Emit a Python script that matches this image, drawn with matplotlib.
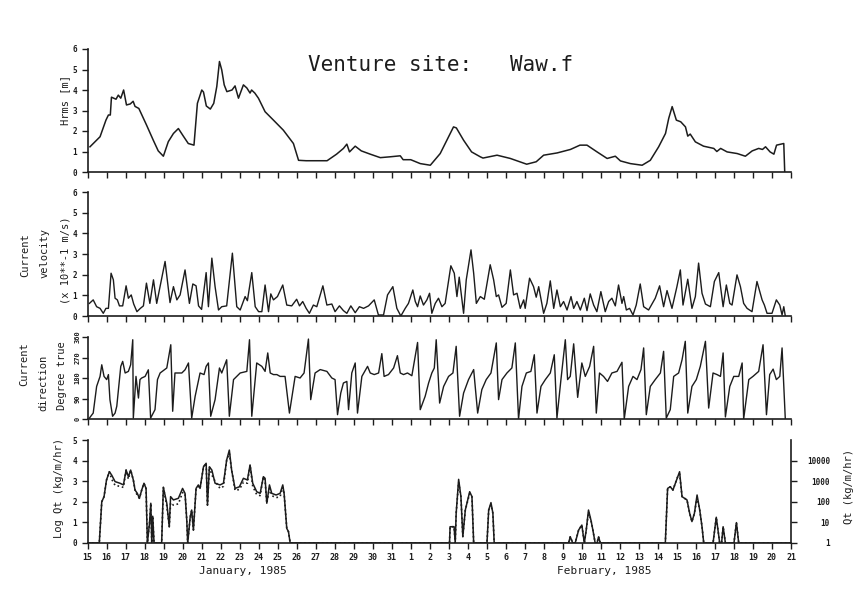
import numpy as np
import matplotlib
matplotlib.use("Agg")
import matplotlib.pyplot as plt

plt.rcParams['font.family'] = ['DejaVu Sans Mono']

# ---- data (day of Jan 1985; Feb 1 = day 32) ----
hrms_day = [15.13, 15.66, 15.97, 16.1, 16.2, 16.26, 16.5, 16.62, 16.75, 16.9,
            17.05, 17.25, 17.4, 17.5, 17.7, 17.94, 18.1, 18.46, 18.72, 18.99,
            19.25, 19.52, 19.78, 20.04, 20.3, 20.6, 20.78, 21.01, 21.1, 21.25,
            21.46, 21.64, 21.8, 21.94, 22.06, 22.19, 22.33, 22.6, 22.76, 22.94,
            23.2, 23.38, 23.55, 23.63, 23.8, 23.99, 24.34, 24.78, 25.3, 25.83,
            26.1, 26.5, 27.6, 28.1, 28.46, 28.64, 28.78, 29.08, 29.4, 29.87,
            30.4, 30.9, 31.45, 31.6, 32.0, 32.5, 33.03, 33.55, 33.9, 34.25,
            34.4, 34.78, 35.2, 35.66, 35.8, 36.54, 37.24, 38.1, 38.6, 38.99,
            39.7, 40.4, 40.9, 41.27, 41.8, 42.33, 42.76, 43.03, 43.55, 44.17,
            44.6, 45.04, 45.4, 45.57, 45.75, 45.97, 46.2, 46.45, 46.57, 46.7,
            46.97, 47.4, 47.94, 48.1, 48.3, 48.64, 49.17, 49.6, 49.96, 50.3,
            50.5, 50.66, 50.9, 51.1, 51.24, 51.62, 51.67]
hrms_val = [1.23, 1.72, 2.53, 2.78, 2.78, 3.65, 3.55, 3.75, 3.6, 4.0,
            3.27, 3.32, 3.45, 3.2, 3.1, 2.62, 2.3, 1.55, 1.03, 0.77,
            1.48, 1.88, 2.12, 1.75, 1.39, 1.31, 3.35, 4.0, 3.9, 3.22,
            3.07, 3.35, 4.17, 5.39, 4.98, 4.25, 3.92, 4.0, 4.2, 3.6,
            4.25, 4.1, 3.85, 4.0, 3.85, 3.6, 2.94, 2.53, 2.04, 1.39,
            0.57, 0.55, 0.55, 0.87, 1.15, 1.36, 0.98, 1.26, 1.03, 0.87,
            0.7, 0.74, 0.79, 0.6, 0.6, 0.41, 0.33, 0.9, 1.55, 2.2,
            2.15, 1.55, 0.98, 0.74, 0.68, 0.82, 0.66, 0.38, 0.5, 0.82,
            0.93, 1.1, 1.31, 1.31, 0.98, 0.66, 0.77, 0.54, 0.41, 0.33,
            0.57, 1.23, 1.88, 2.62, 3.19, 2.53, 2.45, 2.2, 1.75, 1.85,
            1.47, 1.26, 1.15, 1.0, 1.15, 0.98, 0.9, 0.77, 1.03, 1.15,
            1.1, 1.23, 0.98, 0.87, 1.31, 1.39, 0.0]

vel_day = [15.1, 15.3, 15.48, 15.66, 15.83, 15.97, 16.1, 16.24, 16.36, 16.45,
           16.57, 16.68, 16.85, 17.03, 17.15, 17.3, 17.43, 17.6, 17.78, 17.94,
           18.1, 18.28, 18.47, 18.64, 19.08, 19.34, 19.52, 19.7, 19.87, 20.13,
           20.36, 20.54, 20.71, 20.84, 21.0, 21.24, 21.36, 21.54, 21.71, 21.89,
           22.06, 22.32, 22.62, 22.85, 23.03, 23.29, 23.41, 23.64, 23.82, 24.0,
           24.17, 24.34, 24.52, 24.64, 24.78, 24.99, 25.27, 25.48, 25.74, 26.0,
           26.15, 26.32, 26.5, 26.67, 26.88, 27.06, 27.38, 27.59, 27.85, 28.02,
           28.25, 28.46, 28.64, 28.85, 29.08, 29.3, 29.52, 29.78, 30.08, 30.3,
           30.57, 30.78, 31.06, 31.27, 31.48, 31.71, 31.88, 32.11, 32.24, 32.36,
           32.5, 32.67, 32.85, 32.99, 33.11, 33.29, 33.46, 33.64, 33.81, 34.11,
           34.29, 34.43, 34.55, 34.78, 34.92, 35.17, 35.31, 35.45, 35.66, 35.87,
           36.18, 36.36, 36.5, 36.62, 36.8, 37.02, 37.24, 37.41, 37.59, 37.76,
           37.94, 38.02, 38.25, 38.46, 38.6, 38.73, 38.99, 39.16, 39.34, 39.52,
           39.69, 39.87, 40.04, 40.22, 40.43, 40.57, 40.74, 40.92, 41.13, 41.27,
           41.44, 41.62, 41.79, 42.0, 42.23, 42.41, 42.58, 42.76, 42.93, 43.11,
           43.2, 43.34, 43.51, 43.69, 43.86, 44.07, 44.25, 44.51, 44.86, 45.09,
           45.3, 45.48, 45.74, 46.0, 46.18, 46.32, 46.57, 46.79, 46.97, 47.14,
           47.32, 47.5, 47.76, 47.97, 48.2, 48.43, 48.6, 48.78, 48.9, 49.16,
           49.34, 49.51, 49.69, 49.95, 50.21, 50.48, 50.6, 50.74, 51.0, 51.23,
           51.41, 51.53, 51.62, 51.7]
vel_val = [0.61, 0.78, 0.45, 0.37, 0.13, 0.37, 0.37, 2.07, 1.75, 0.86,
           0.78, 0.49, 0.49, 1.46, 0.86, 1.02, 0.58, 0.21, 0.37, 0.49,
           1.59, 0.61, 1.75, 0.61, 2.64, 0.65, 1.42, 0.78, 1.02, 2.23,
           0.61, 1.55, 1.46, 0.49, 0.32, 2.1, 0.45, 2.8, 1.42, 0.29,
           0.45, 0.49, 3.04, 0.45, 0.29, 0.94, 0.74, 2.1, 0.45, 0.21,
           0.21, 1.5, 0.21, 1.07, 0.78, 0.94, 1.5, 0.53, 0.49, 0.81,
           0.49, 0.7, 0.37, 0.13, 0.53, 0.45, 1.46, 0.53, 0.58, 0.21,
           0.49, 0.26, 0.13, 0.49, 0.16, 0.45, 0.37, 0.49, 0.78, 0.05,
           0.05, 1.02, 1.42, 0.37, 0.0, 0.37, 0.61, 1.26, 0.7, 0.45,
           0.97, 0.53, 0.78, 1.1, 0.13, 0.61, 0.86, 0.45, 0.61, 2.43,
           2.07, 0.94, 1.88, 0.13, 1.75, 3.2, 2.07, 0.61, 0.94, 0.81,
           2.48, 1.75, 0.94, 1.02, 0.42, 0.61, 2.23, 1.02, 1.1, 0.37,
           0.78, 0.37, 1.83, 1.42, 0.91, 1.42, 0.13, 0.61, 1.7, 0.37,
           1.26, 0.45, 0.7, 0.29, 0.94, 0.37, 0.7, 0.29, 0.86, 0.26,
           1.07, 0.53, 0.21, 1.18, 0.21, 0.7, 0.86, 0.49, 1.5, 0.61,
           0.94, 0.29, 0.37, 0.05, 0.53, 1.55, 0.45, 0.29, 0.86, 1.46,
           0.45, 1.23, 0.37, 1.42, 2.23, 0.53, 1.78, 0.37, 0.94, 2.56,
           1.1, 0.58, 0.45, 1.67, 2.1, 0.45, 1.5, 0.61, 0.53, 1.99,
           1.42, 0.61, 0.37, 0.21, 1.67, 0.78, 0.53, 0.13, 0.13, 0.78,
           0.53, 0.05, 0.45, 0.0]

dir_day = [15.1, 15.3, 15.48, 15.66, 15.75, 15.87, 16.01, 16.1, 16.18, 16.32,
           16.45, 16.54, 16.75, 16.85, 16.98, 17.15, 17.27, 17.38, 17.41, 17.55,
           17.68, 17.76, 17.85, 18.03, 18.2, 18.32, 18.55, 18.68, 18.82, 19.17,
           19.38, 19.48, 19.6, 19.96, 20.13, 20.31, 20.48, 20.66, 20.92, 21.13,
           21.24, 21.36, 21.48, 21.71, 21.94, 22.06, 22.32, 22.46, 22.68, 23.03,
           23.38, 23.52, 23.64, 23.9, 24.17, 24.34, 24.48, 24.61, 24.78, 24.96,
           25.13, 25.39, 25.62, 25.92, 26.18, 26.39, 26.62, 26.74, 26.97, 27.24,
           27.59, 27.85, 28.02, 28.15, 28.32, 28.46, 28.64, 28.73, 28.9, 29.08,
           29.2, 29.43, 29.73, 29.87, 30.08, 30.31, 30.48, 30.6, 30.83, 31.1,
           31.3, 31.45, 31.62, 31.83, 32.06, 32.36, 32.5, 32.76, 32.94, 33.11,
           33.24, 33.34, 33.52, 33.73, 33.99, 34.22, 34.39, 34.57, 34.78, 35.04,
           35.31, 35.52, 35.74, 35.97, 36.22, 36.5, 36.62, 36.8, 37.06, 37.32,
           37.5, 37.67, 37.85, 38.08, 38.32, 38.5, 38.64, 38.85, 39.08, 39.34,
           39.55, 39.69, 39.9, 40.13, 40.25, 40.39, 40.57, 40.78, 41.0, 41.18,
           41.41, 41.62, 41.76, 41.93, 42.14, 42.35, 42.58, 42.85, 43.11, 43.23,
           43.46, 43.69, 43.9, 44.11, 44.25, 44.39, 44.6, 44.86, 45.13, 45.3,
           45.44, 45.65, 45.83, 46.09, 46.27, 46.44, 46.57, 46.79, 47.02, 47.23,
           47.5, 47.67, 47.9, 48.11, 48.29, 48.43, 48.55, 48.78, 48.99, 49.25,
           49.43, 49.51, 49.78, 50.0, 50.3, 50.53, 50.71, 50.88, 51.06, 51.23,
           51.41, 51.53, 51.7]
dir_val = [4, 26, 143, 187, 238, 187, 173, 195, 85, 12,
           26, 56, 231, 253, 202, 209, 238, 348, 4, 187,
           92, 173, 180, 187, 216, 4, 41, 173, 202, 224,
           326, 34, 202, 202, 216, 246, 4, 99, 202, 195,
           231, 246, 12, 85, 224, 202, 260, 12, 173, 202,
           209, 348, 12, 246, 231, 209, 290, 202, 195, 195,
           187, 187, 26, 187, 180, 202, 351, 85, 202, 217,
           209, 180, 173, 19, 114, 158, 165, 41, 202, 246,
           26, 187, 231, 202, 195, 202, 287, 187, 195, 224,
           278, 202, 195, 202, 190, 336, 41, 100, 158, 202,
           224, 348, 70, 143, 187, 202, 319, 12, 114, 173,
           217, 26, 129, 173, 202, 334, 85, 173, 202, 224,
           334, 0, 143, 202, 209, 282, 26, 143, 173, 202,
           282, 4, 173, 348, 173, 187, 330, 95, 246, 187,
           231, 319, 26, 202, 187, 165, 202, 209, 249, 0,
           143, 187, 173, 217, 312, 19, 143, 173, 202, 297,
           4, 41, 187, 202, 260, 341, 26, 143, 173, 231,
           341, 48, 202, 195, 187, 290, 9, 143, 187, 187,
           246, 0, 173, 187, 209, 326, 19, 195, 219, 173,
           187, 312, 0]

q_day = [15.0, 15.62, 15.75, 15.87, 16.0, 16.15, 16.27, 16.45, 16.71, 16.89,
         17.03, 17.15, 17.27, 17.41, 17.5, 17.62, 17.73, 17.85, 17.97, 18.08,
         18.15, 18.26, 18.33, 18.38, 18.43, 18.5, 18.9, 18.99, 19.17, 19.3,
         19.37, 19.52, 19.78, 20.0, 20.13, 20.22, 20.27, 20.4, 20.48, 20.57,
         20.71, 20.83, 20.92, 21.1, 21.24, 21.31, 21.41, 21.54, 21.71, 21.97,
         22.15, 22.32, 22.46, 22.58, 22.76, 22.99, 23.2, 23.41, 23.55, 23.69,
         23.9, 24.08, 24.25, 24.34, 24.43, 24.57, 24.69, 24.92, 25.13, 25.27,
         25.34, 25.48, 25.57, 25.66, 34.04, 34.07, 34.28, 34.34, 34.39, 34.52,
         34.64, 34.74, 34.87, 35.1, 35.22, 35.31, 36.01, 36.1, 36.22, 36.32,
         36.39, 40.3, 40.39, 40.52, 40.65, 40.83, 41.0, 41.13, 41.23, 41.35,
         41.48, 41.58, 41.7, 41.8, 41.88, 41.97, 45.39, 45.51, 45.65, 45.79,
         45.92, 46.04, 46.14, 46.27, 46.53, 46.67, 46.79, 46.92, 47.06, 47.2,
         47.32, 47.41, 47.9, 48.07, 48.25, 48.35, 48.43, 48.55, 49.0, 49.13,
         49.25, 52.0]
q_solid = [0, 0, 2.0, 2.25, 3.06, 3.46, 3.3, 2.98, 2.9, 2.82,
           3.54, 3.22, 3.54, 3.06, 2.57, 2.41, 2.17, 2.57, 2.9, 2.65,
           0, 0.95, 1.93, 0, 1.3, 0, 0, 2.7, 1.93, 0.79,
           2.25, 2.09, 2.17, 2.65, 2.41, 1.12, 0, 1.25, 1.6, 0.63,
           2.65, 2.82, 2.65, 3.7, 3.87, 1.84, 3.7, 3.54, 2.9, 2.82,
           2.9, 4.03, 4.51, 3.54, 2.65, 2.73, 3.14, 3.06, 3.79, 2.9,
           2.49, 2.41, 3.22, 3.14, 1.93, 2.82, 2.41, 2.33, 2.41, 2.82,
           2.41, 0.71, 0.55, 0, 0, 0.79, 0.79, 0, 1.45, 3.09,
           2.25, 0.31, 1.6, 2.49, 2.25, 0, 0, 1.6, 1.96, 1.45,
           0, 0, 0.3, 0, 0, 0.63, 0.87, 0, 0.63, 1.6,
           1.1, 0.63, 0, 0, 0.3, 0, 0, 2.65, 2.73, 2.57,
           2.9, 3.22, 3.46, 2.25, 2.09, 1.44, 1.04, 1.44, 2.33, 1.6,
           0.79, 0, 0, 1.25, 0, 0, 0.79, 0, 0, 0.99,
           0, 0]
q_dotted = [0, 0, 2.0, 2.25, 3.06, 3.46, 3.1, 2.8, 2.75, 2.7,
            3.54, 3.1, 3.54, 3.06, 2.57, 2.3, 2.17, 2.57, 2.9, 2.65,
            0, 0.95, 1.93, 0, 1.3, 0, 0, 2.7, 1.8, 0.79,
            1.95, 1.84, 1.9, 2.45, 2.41, 1.12, 0, 1.25, 1.6, 0.63,
            2.65, 2.75, 2.65, 3.7, 3.87, 1.84, 3.7, 3.3, 3.0, 2.65,
            2.75, 4.03, 4.35, 3.54, 2.55, 2.6, 2.95, 2.9, 3.79, 2.75,
            2.35, 2.3, 3.22, 3.0, 1.93, 2.65, 2.3, 2.2, 2.25, 2.7,
            2.41, 0.71, 0.55, 0, 0, 0.79, 0.79, 0, 1.45, 2.95,
            2.25, 0.31, 1.6, 2.4, 2.25, 0, 0, 1.6, 1.85, 1.45,
            0, 0, 0.3, 0, 0, 0.63, 0.87, 0, 0.63, 1.5,
            1.1, 0.63, 0, 0, 0.3, 0, 0, 2.65, 2.73, 2.57,
            2.9, 3.22, 3.35, 2.25, 2.09, 1.44, 1.04, 1.44, 2.2, 1.6,
            0.79, 0, 0, 1.25, 0, 0, 0.79, 0, 0, 0.99,
            0, 0]

day_ticks = list(range(15, 53))
day_labels = [str(d) for d in range(15, 32)] + [str(d) for d in range(1, 22)]
q_right_labels = ['1', '10', '100', '1000', '10000']

# ---- layout (pixel boxes of the original scan) ----
W, H = 868, 589
def box(x0, x1, ytop, ybot):
    return [x0 / W, 1 - ybot / H, (x1 - x0) / W, (ybot - ytop) / H]

fig = plt.figure(figsize=(8.68, 5.89), dpi=100)
ink = '#1c1c1c'
ax1 = fig.add_axes(box(87.5, 791, 49, 172))
ax2 = fig.add_axes(box(87.5, 791, 192, 316))
ax3 = fig.add_axes(box(87.5, 791, 337, 419))
ax4 = fig.add_axes(box(87.5, 791, 440, 543))

for ax in (ax1, ax2, ax3, ax4):
    ax.set_xlim(15, 52)
    ax.set_xticks(day_ticks)
    for s in ('top', 'right'):
        ax.spines[s].set_visible(False)
    for s in ('left', 'bottom'):
        ax.spines[s].set_linewidth(1.2)
        ax.spines[s].set_color(ink)
    ax.tick_params(direction='out', length=4, width=1, colors=ink,
                   labelsize=5.5)
    if ax is not ax4:
        ax.set_xticklabels([])

ax1.plot(hrms_day, hrms_val, color=ink, lw=1.1)
ax1.set_ylim(0, 6)
ax1.set_yticks(range(0, 7))

ax2.plot(vel_day, vel_val, color=ink, lw=1.0)
ax2.set_ylim(0, 6)
ax2.set_yticks(range(0, 7))

ax3.plot(dir_day, dir_val, color=ink, lw=1.0)
ax3.set_ylim(0, 360)
ax3.set_yticks([0, 90, 180, 270, 360])
ax3.tick_params(axis='y', pad=1, labelsize=5)
for lab in ax3.get_yticklabels():
    lab.set_rotation(90)
    lab.set_va('center')

ax4.plot(q_day, q_solid, color=ink, lw=1.1)
ax4.plot(q_day, q_dotted, color=ink, lw=1.2, ls=':')
ax4.set_ylim(0, 5)
ax4.set_yticks(range(0, 6))
ax4.set_xticklabels(day_labels, fontsize=6, fontweight='bold')
ax4.tick_params(axis='x', pad=3)

for ax in (ax1, ax2, ax3, ax4):
    for lab in ax.get_yticklabels():
        lab.set_fontweight('bold')

axr = ax4.twinx()
axr.set_ylim(0, 5)
for s in ('top', 'left', 'bottom'):
    axr.spines[s].set_visible(False)
axr.spines['right'].set_linewidth(1.2)
axr.spines['right'].set_color(ink)
axr.set_yticks(range(0, 5))
axr.set_yticklabels(q_right_labels, fontsize=5.5, fontweight='bold', ha='right')
axr.tick_params(axis='y', direction='out', length=4, width=1, colors=ink, pad=24)

# ---- text ----
fs = 7.5
fig.text(441 / W, 1 - 65 / H, 'Venture site:   Waw.f', fontsize=15,
         ha='center', va='center', color=ink)
fig.text(65 / W, 1 - 100 / H, 'Hrms [m]', rotation=90, fontsize=fs,
         ha='center', va='center', color=ink)
fig.text(25 / W, 1 - 255 / H, 'Current', rotation=90, fontsize=fs,
         ha='center', va='center', color=ink)
fig.text(45 / W, 1 - 253 / H, 'velocity', rotation=90, fontsize=fs,
         ha='center', va='center', color=ink)
fig.text(66 / W, 1 - 260 / H, '(x 10**-1 m/s)', rotation=90, fontsize=fs,
         ha='center', va='center', color=ink)
fig.text(24 / W, 1 - 364 / H, 'Current', rotation=90, fontsize=fs,
         ha='center', va='center', color=ink)
fig.text(43 / W, 1 - 383 / H, 'direction', rotation=90, fontsize=fs,
         ha='center', va='center', color=ink)
fig.text(62 / W, 1 - 376 / H, 'Degree true', rotation=90, fontsize=fs,
         ha='center', va='center', color=ink)
fig.text(59 / W, 1 - 488 / H, 'Log Qt (kg/m/hr)', rotation=90, fontsize=fs,
         ha='center', va='center', color=ink)
fig.text(849 / W, 1 - 487 / H, 'Qt (kg/m/hr)', rotation=90, fontsize=fs,
         ha='center', va='center', color=ink)
fig.text(243 / W, 1 - 571 / H, 'January, 1985', fontsize=8,
         ha='center', va='center', color=ink)
fig.text(604 / W, 1 - 571 / H, 'February, 1985', fontsize=8,
         ha='center', va='center', color=ink)

fig.savefig('out.png', dpi=100)
